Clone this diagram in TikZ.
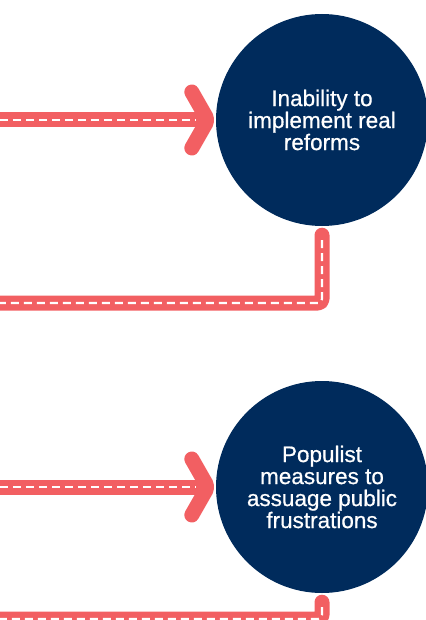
\documentclass[tikz,border=0pt]{standalone}
\usepackage{fontspec}
\setmainfont{Liberation Sans}
\newfontfamily\bubblefont{Liberation Sans}[FakeBold=0.6]
\usetikzlibrary{calc}
\definecolor{navy}{RGB}{0,43,92}
\definecolor{coral}{RGB}{242,95,98}
\tikzset{
  bubble/.style={circle, fill=navy, text=white, minimum size=212pt, inner sep=0pt,
    align=center, font=\bubblefont\fontsize{22.5}{22}\selectfont},
  band/.style={draw=coral, line width=15pt, line cap=round, line join=round, rounded corners=4pt},
  flat/.style={draw=coral, line width=15pt, line cap=butt, line join=round},
  lane/.style={draw=white, line width=2.2pt, dash pattern=on 8pt off 5pt, rounded corners=4pt},
}
\begin{document}
\begin{tikzpicture}[x=1pt,y=-1pt]
\useasboundingbox (0,0) rectangle (425,620);
\node[bubble] (c1) at (322,120) {Inability to\\implement real\\reforms};
\node[bubble] (c2) at (322,487) {Populist\\measures to\\assuage public\\frustrations};
% left ends
\coordinate (l1) at (0,120);
\coordinate (l2) at (0,303);
\coordinate (l3) at (0,487);
\coordinate (l4) at (0,619);
% arrow 1
\coordinate (t1) at ($(c1.west)+(-8,0)$);
\path[flat] (l1) -- (t1);
\path[band] ($(t1)+(-16,-28)$) -- (t1) -- ($(t1)+(-16,28)$);
\path[lane] (l1) -- ($(t1)+(-12,0)$);
% connector 1
\coordinate (s1) at ($(c1.south)+(0,9)$);
\path[band] (s1) -- (s1 |- l2) -- (l2);
\path[lane] ($(s1)+(0,5)$) -- (s1 |- l2) -- (l2);
% arrow 2
\coordinate (t2) at ($(c2.west)+(-8,0)$);
\path[flat] (l3) -- (t2);
\path[band] ($(t2)+(-16,-28)$) -- (t2) -- ($(t2)+(-16,28)$);
\path[lane] (l3) -- ($(t2)+(-12,0)$);
% connector 2
\coordinate (s2) at ($(c2.south)+(0,9)$);
\path[band] (s2) -- (s2 |- l4) -- (l4);
\path[lane] ($(s2)+(0,5)$) -- (s2 |- l4) -- (l4);
\end{tikzpicture}
\end{document}
